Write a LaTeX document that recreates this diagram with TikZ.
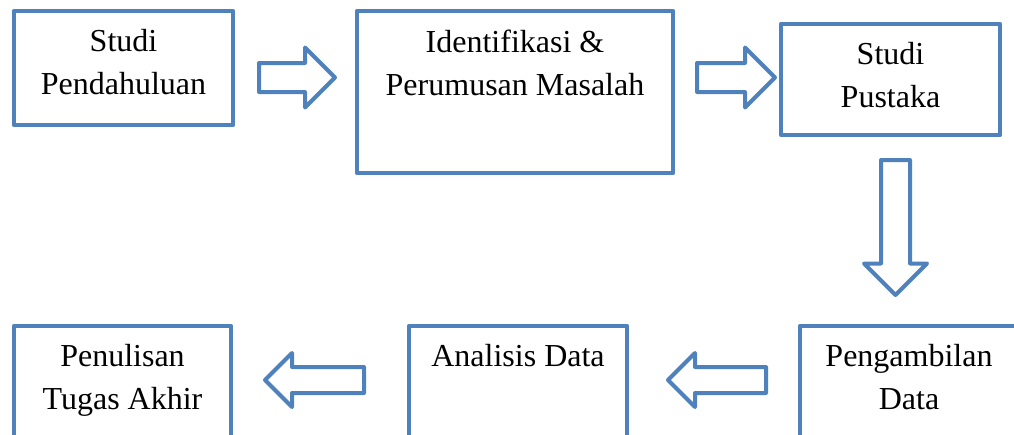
\documentclass[tikz,border=0pt]{standalone}
\usepackage{fontspec}
\setmainfont{Liberation Serif}
\usetikzlibrary{positioning,shapes.arrows}
\definecolor{boxblue}{RGB}{79,129,189}

\begin{document}
\begin{tikzpicture}[
		x=1pt, y=-1pt,
		stage/.style={rectangle, draw=boxblue, line width=4.5pt, line join=round, inner sep=0pt},
		stagetext/.style={align=center, inner sep=0pt, font=\fontsize{32}{43}\selectfont},
		flow/.style={single arrow, draw=boxblue, line width=4pt, line join=round, fill=white,
			inner xsep=0pt, anchor=tail}
	]
  \useasboundingbox (0,0) rectangle (1014,434);
  % top row
  \node (studi) [stage, minimum width=219pt, minimum height=114pt] at (123.5,68) {};
  \node (identifikasi) [stage, minimum width=316pt, minimum height=162pt] at (515,92) {};
  \node (pustaka) [stage, minimum width=219pt, minimum height=111pt] at (890.5,79.5) {};
  % bottom row
  \node (penulisan) [stage, minimum width=217pt, minimum height=150pt] at (122.5,401) {};
  \node (analisis) [stage, minimum width=218pt, minimum height=150pt] at (518,401) {};
  \node (pengambilan) [stage, minimum width=218pt, minimum height=150pt] at (909,401) {};
  % texts
  \node (studi_t) [stagetext, below=20pt of studi.north] {Studi\\Pendahuluan};
  \node (identifikasi_t) [stagetext, below=21pt of identifikasi.north] {Identifikasi \&\\Perumusan Masalah};
  \node (pustaka_t) [stagetext, below=20pt of pustaka.north] {Studi\\Pustaka};
  \node (penulisan_t) [stagetext, below=20pt of penulisan.north] {Penulisan\\Tugas Akhir};
  \node (analisis_t) [stagetext, below=20pt of analisis.north] {Analisis Data};
  \node (pengambilan_t) [stagetext, below=20pt of pengambilan.north] {Pengambilan\\Data};
  % block arrows
  \node (a1) [flow, minimum height=76pt, inner ysep=12.5pt, single arrow head extend=15.5pt] at (257,77.5) {};
  \node (a2) [flow, minimum height=78pt, inner ysep=12.5pt, single arrow head extend=15.5pt] at (695,77.5) {};
  \node (a3) [flow, rotate=-90, minimum height=135pt, inner ysep=12.5pt, single arrow head extend=17pt] at (895.5,158) {};
  \node (a4) [flow, rotate=180, minimum height=99pt, inner ysep=11pt, single arrow head extend=14pt] at (366,380) {};
  \node (a5) [flow, rotate=180, minimum height=98pt, inner ysep=11pt, single arrow head extend=14pt] at (768,380) {};
\end{tikzpicture}
\end{document}
